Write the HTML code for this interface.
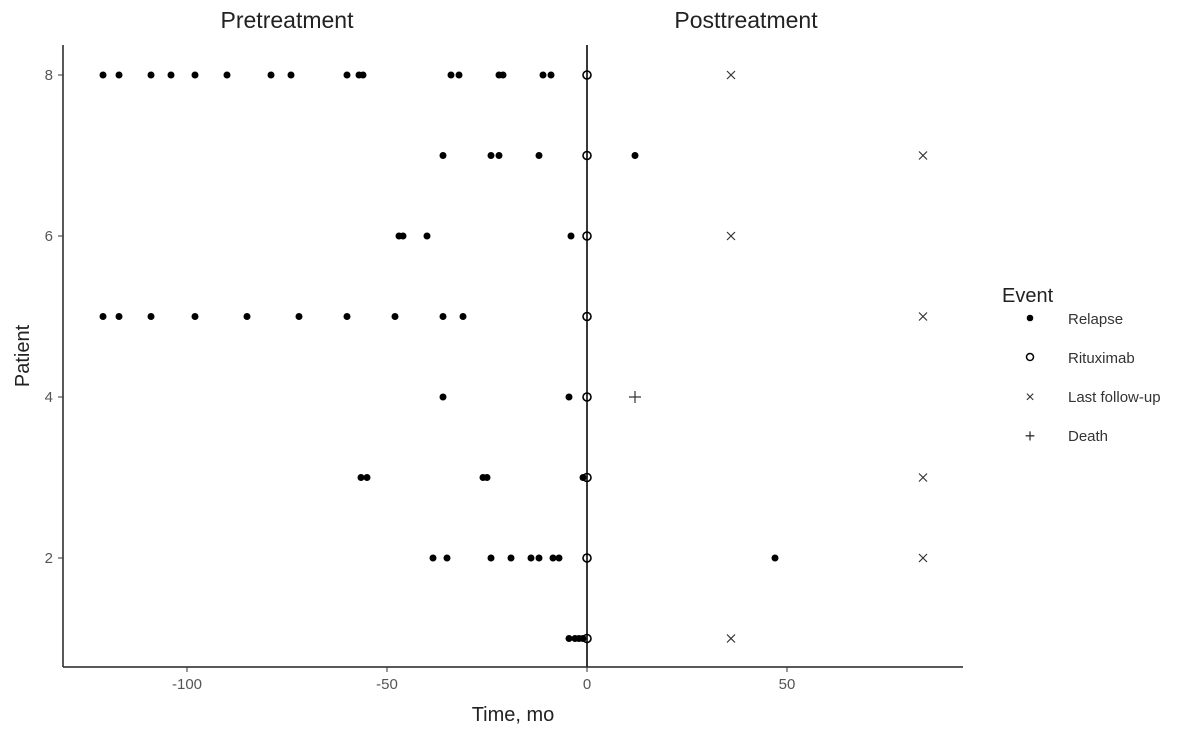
<!DOCTYPE html>
<html><head><meta charset="utf-8"><style>
body{margin:0;background:#fff;font-family:"Liberation Sans",sans-serif;}
</style></head><body>
<svg width="1183" height="727" xmlns="http://www.w3.org/2000/svg" font-family="Liberation Sans, sans-serif">
<g id="plot"></g>
<text x="287" y="28" font-size="23" text-anchor="middle" fill="#222">Pretreatment</text>
<text x="746" y="28" font-size="23" text-anchor="middle" fill="#222">Posttreatment</text>
<text x="513" y="721" font-size="20" text-anchor="middle" fill="#222">Time, mo</text>
<text x="29" y="356" font-size="20" text-anchor="middle" fill="#222" transform="rotate(-90 29 356)">Patient</text>
<g>
<text x="1002" y="302" font-size="20" fill="#222">Event</text>
<circle cx="1030" cy="318" r="3.3" fill="#000"/>
<text x="1068" y="324" font-size="15" fill="#333">Relapse</text>
<circle cx="1030" cy="357" r="3.5" fill="none" stroke="#000" stroke-width="1.5"/>
<text x="1068" y="363" font-size="15" fill="#333">Rituximab</text>
<text x="1030" y="402" font-size="16" text-anchor="middle" fill="#333">×</text>
<text x="1068" y="402" font-size="15" fill="#333">Last follow-up</text>
<text x="1030" y="442" font-size="18" text-anchor="middle" fill="#333">+</text>
<text x="1068" y="441" font-size="15" fill="#333">Death</text>
</g>
</svg>
<script>
const relapsePatients=[8,8,8,8,8,8,8,8,8,8,8,8,8,8,8,8,8,7,7,7,7,7,6,6,6,6,5,5,5,5,5,5,5,5,5,5,4,4,3,3,3,3,3,2,2,2,2,2,2,2,2,2,1,1,1,1,1];
const relapseTimes=[-121,-117,-109,-104,-98,-90,-79,-74,-60,-57,-56,-34,-32,-22,-21,-11,-9,-36,-24,-22,-12,12,-47,-46,-40,-4,-121,-117,-109,-98,-85,-72,-60,-48,-36,-31,-36,-4.5,-56.5,-55,-26,-25,-1,-38.5,-35,-24,-19,-14,-12,-8.5,47,-7,-4.5,-3,-2,-1];
const ritPatients=[1,2,3,4,5,6,7,8];
const ritTimes=[0,0,0,0,0,0,0,0];
const fuPatients=[8,7,6,5,3,2,1];
const fuTimes=[36,84,36,84,84,84,36];
const deathPatients=[4];
const deathTimes=[12];
const xTicks=[-100,-50,0,50];
const yTicks=[2,4,6,8];
const NS='http://www.w3.org/2000/svg';
const X=v=>587+4*v, Y=p=>75+(8-p)*80.5;
const g=document.getElementById('plot');
function mk(t,a){const e=document.createElementNS(NS,t);for(const k in a)e.setAttribute(k,a[k]);g.appendChild(e);return e;}
let e;
e=mk('line',{x1:63,y1:45,x2:63,y2:667,stroke:'#222','stroke-width':1.5});


e=mk('line',{x1:63,y1:667,x2:963,y2:667,stroke:'#222','stroke-width':1.5});


e=mk('line',{x1:X(0),y1:45,x2:X(0),y2:667,stroke:'#222','stroke-width':1.8});


xTicks.forEach(v=>{
 e=mk('line',{x1:X(v),y1:667,x2:X(v),y2:672,stroke:'#333'});
 
 
 e=mk('text',{x:X(v),y:689,'font-size':15,'text-anchor':'middle',fill:'#555'});e.textContent=v;
 
 
});
yTicks.forEach(v=>{
 e=mk('line',{x1:58,y1:Y(v),x2:63,y2:Y(v),stroke:'#333'});
 
 
 e=mk('text',{x:53,y:Y(v)+5,'font-size':15,'text-anchor':'end',fill:'#555'});e.textContent=v;
 
 
});
relapseTimes.forEach((t,i)=>{
 e=mk('circle',{cx:X(t),cy:Y(relapsePatients[i]),r:3.5,fill:'#000'});
 
 
});
ritTimes.forEach((t,i)=>{
 e=mk('circle',{cx:X(t),cy:Y(ritPatients[i]),r:4,fill:'none',stroke:'#000','stroke-width':1.6});
 
 
});
fuTimes.forEach((t,i)=>{
 const x=X(t),y=Y(fuPatients[i]);
 e=mk('path',{d:`M${x-4} ${y-4}L${x+4} ${y+4}M${x-4} ${y+4}L${x+4} ${y-4}`,stroke:'#333','stroke-width':1.2});
 
 
});
deathTimes.forEach((t,i)=>{
 const x=X(t),y=Y(deathPatients[i]);
 e=mk('path',{d:`M${x-6} ${y}L${x+6} ${y}M${x} ${y-6}L${x} ${y+6}`,stroke:'#333','stroke-width':1.2});
 
 
});
</script>
</body></html>
